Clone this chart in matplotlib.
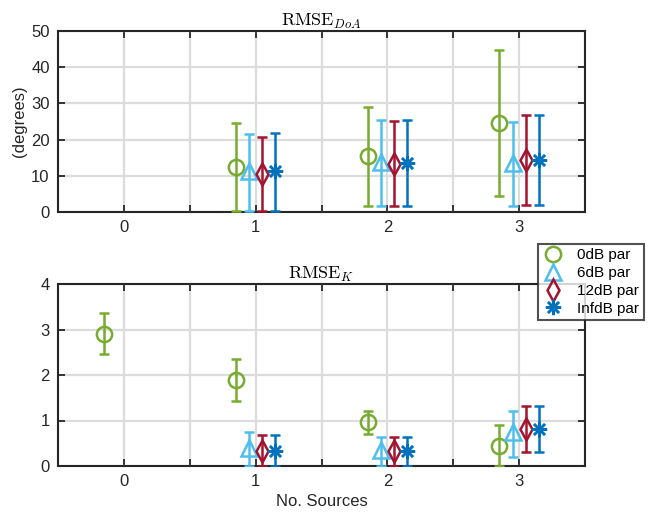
import matplotlib.pyplot as plt
from matplotlib.lines import Line2D
import numpy as np

plt.rcParams['font.family'] = ['Liberation Sans', 'DejaVu Sans']
plt.rcParams['mathtext.fontset'] = 'cm'

# series labels, colours and markers (MATLAB default palette)
labels = ['0dB par', '6dB par', '12dB par', 'InfdB par']
colors = ['#77AC30', '#4DBEEE', '#A2142F', '#0072BD']
markers = ['o', '^', 'd', (8, 2, 0)]

# number of sources for each series (0dB has a point at 0 in RMSE_K only)
src_doa = [1, 2, 3]
src_k0 = [0, 1, 2, 3]
src_k = [1, 2, 3]

# RMSE DoA (degrees): mean, lower end, upper end of error bar
doa_mean = [[12.4, 15.4, 24.6], [11.3, 13.8, 13.4], [10.6, 13.2, 14.3], [11.2, 13.5, 14.5]]
doa_low = [[0.3, 1.7, 4.3], [0.3, 1.6, 1.6], [0.3, 1.6, 1.8], [0.3, 1.7, 1.8]]
doa_high = [[24.5, 28.9, 44.8], [21.5, 25.3, 25.0], [20.7, 25.1, 26.9], [21.8, 25.4, 26.8]]

# RMSE K
k_mean = [[2.91, 1.90, 0.97, 0.45], [0.40, 0.35, 0.74], [0.34, 0.33, 0.82], [0.34, 0.33, 0.82]]
k_low = [[2.46, 1.43, 0.71, 0.0], [0.0, 0.0, 0.19], [0.0, 0.0, 0.30], [0.0, 0.0, 0.30]]
k_high = [[3.36, 2.36, 1.20, 0.90], [0.74, 0.64, 1.20], [0.68, 0.64, 1.32], [0.68, 0.64, 1.32]]

offsets = [-0.15, -0.05, 0.05, 0.15]

fig = plt.figure(figsize=(6.52, 5.12), dpi=100)
ax1 = fig.add_axes([58/652, 1-212/512, 527/652, 181/512])
ax2 = fig.add_axes([58/652, 1-466/512, 527/652, 182/512])


def draw(ax, xs, mean, low, high, i):
    x = np.array(xs) + offsets[i]
    m = np.array(mean)
    err = [m - np.array(low), np.array(high) - m]
    ax.errorbar(x, m, yerr=err, fmt='none', ecolor=colors[i], elinewidth=1.8,
                capsize=3.5, capthick=1.8, zorder=3)
    ax.plot(x, m, linestyle='none', marker=markers[i], markersize=11,
            markerfacecolor='none' if i < 3 else colors[i],
            markeredgecolor=colors[i], markeredgewidth=1.8, zorder=4)


for i in range(4):
    draw(ax1, src_doa, doa_mean[i], doa_low[i], doa_high[i], i)
    draw(ax2, src_k0 if i == 0 else src_k, k_mean[i], k_low[i], k_high[i], i)

for ax in (ax1, ax2):
    ax.set_xlim(-0.5, 3.5)
    ax.set_xticks(np.arange(-0.5, 3.51, 0.5))
    ax.set_xticklabels(['', '0', '', '1', '', '2', '', '3', ''])
    ax.grid(True, color='#dcdcdc', linewidth=1.6)
    ax.set_axisbelow(True)
    ax.tick_params(direction='in', top=True, right=True, length=5, width=1.3,
                   labelsize=12, colors='#262626', pad=6)
    for s in ax.spines.values():
        s.set_linewidth(1.5)
        s.set_color('#262626')

ax1.set_ylim(0, 50)
ax1.set_yticks([0, 10, 20, 30, 40, 50])
ax1.set_ylabel('(degrees)', fontsize=12, color='#262626', labelpad=3)
ax1.set_title(r'$\mathrm{RMSE}_{DoA}$', fontsize=13, pad=4)

ax2.set_ylim(0, 4)
ax2.set_yticks([0, 1, 2, 3, 4])
ax2.set_xlabel('No. Sources', fontsize=12, color='#262626', labelpad=3)
ax2.set_title(r'$\mathrm{RMSE}_{K}$', fontsize=13, pad=4)

handles = [Line2D([], [], linestyle='none', marker=markers[i], markersize=11,
                  markerfacecolor='none' if i < 3 else colors[i],
                  markeredgecolor=colors[i], markeredgewidth=1.8)
           for i in range(4)]
leg = fig.legend(handles, labels, loc='upper left',
                 bbox_to_anchor=(530/652, 1-236/512), fontsize=11,
                 frameon=True, fancybox=False, handlelength=1.4,
                 handletextpad=0.9, borderpad=0.3, labelspacing=0.25)
leg.get_frame().set_edgecolor('#262626')
leg.get_frame().set_linewidth(1.5)

fig.savefig('out.png', dpi=100)
